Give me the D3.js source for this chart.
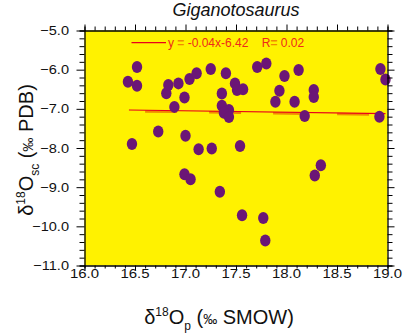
<!DOCTYPE html>
<html><head><meta charset="utf-8">
<script src="https://cdn.jsdelivr.net/npm/d3@7"></script>
<style>body{margin:0;background:#fff}svg{display:block}text{font-family:"Liberation Sans",Arial,sans-serif}</style>
</head><body>
<script>
const title = "Giganotosaurus";
const xTicks = [16.0, 16.5, 17.0, 17.5, 18.0, 18.5, 19.0];
const yTicks = [-5.0, -6.0, -7.0, -8.0, -9.0, -10.0, -11.0];
const ptX = [16.52,16.43,16.52,16.47,16.73,16.81,16.83,16.93,16.99,16.89,17.00,17.04,17.11,17.13,16.99,17.05,17.25,17.26,17.40,17.36,17.36,17.43,17.38,17.43,17.49,17.51,17.57,17.54,17.34,17.56,17.71,17.80,17.98,18.12,17.93,17.89,18.08,18.27,18.27,18.18,18.34,18.28,17.77,17.79,18.93,18.98,18.92];
const ptY = [-5.93,-6.31,-6.41,-7.90,-7.58,-6.60,-6.39,-6.35,-6.71,-6.95,-7.69,-6.24,-6.09,-8.03,-8.67,-8.80,-5.98,-8.01,-6.09,-6.61,-6.92,-7.03,-7.10,-7.21,-6.35,-6.52,-6.50,-7.95,-9.12,-9.72,-5.93,-5.84,-6.16,-6.01,-6.54,-6.82,-6.82,-6.52,-6.70,-7.18,-8.44,-8.70,-9.79,-10.36,-5.98,-6.25,-7.20];
const fitX = [16.44, 18.98];
const fitY = [-7.03, -7.12];
const legendParts = ["y ", "=", " -0.04x-6.42\u00a0\u00a0\u00a0\u00a0R", "=", " 0.02"];

const W = 415, H = 335;
const svg = d3.select("body").append("svg").attr("width", W).attr("height", H);
const x = d3.scaleLinear().domain([16, 19]).range([84.5, 387.5]);
const y = d3.scaleLinear().domain([-11, -5]).range([265.5, 30.5]);

svg.append("rect").attr("x", x(16)).attr("y", y(-5)).attr("width", x(19) - x(16)).attr("height", y(-11) - y(-5)).attr("fill", "#fff200");

const fy = v => fitY[0] + (v - fitX[0]) * (fitY[1] - fitY[0]) / (fitX[1] - fitX[0]);
svg.append("line").attr("x1", x(16.6)).attr("x2", x(18.83)).attr("y1", y(fy(16.6)) + 1.2).attr("y2", y(fy(18.83)) + 1.2)
  .attr("stroke", "#f08a00").attr("stroke-width", 2.5).attr("stroke-dasharray", "32,32");
svg.append("line").attr("x1", x(fitX[0])).attr("x2", x(fitX[1])).attr("y1", y(fitY[0])).attr("y2", y(fitY[1]))
  .attr("stroke", "#e8001c").attr("stroke-width", 1.2);

svg.append("g").selectAll("ellipse").data(ptX).join("ellipse")
  .attr("cx", (d) => x(d)).attr("cy", (d, i) => y(ptY[i])).attr("rx", 5.2).attr("ry", 6)
  .attr("fill", "#6b1676");

const fmt = d3.format(".1f");
const gB = svg.append("g").attr("transform", `translate(0,${y(-11)})`)
  .call(d3.axisBottom(x).tickValues(d3.range(16, 19.001, 0.1)).tickSize(3).tickFormat(""));
gB.call(g => g.selectAll(".tick line").filter(d => Math.abs(d * 2 - Math.round(d * 2)) < 1e-6).attr("y2", 5));
const gT = svg.append("g").attr("transform", `translate(0,${y(-5)})`)
  .call(d3.axisTop(x).tickValues(d3.range(16, 19.001, 0.1)).tickSize(4).tickFormat(""));
gT.call(g => g.selectAll(".tick line").filter(d => Math.abs(d * 2 - Math.round(d * 2)) < 1e-6).attr("y2", -6));
const gL = svg.append("g").attr("transform", `translate(${x(16)},0)`)
  .call(d3.axisLeft(y).tickValues(d3.range(-11, -4.999, 0.2)).tickSize(5).tickFormat(""));
gL.call(g => g.selectAll(".tick line").filter(d => Math.abs(d - Math.round(d)) < 1e-6).attr("x2", -8));
const gR = svg.append("g").attr("transform", `translate(${x(19)},0)`)
  .call(d3.axisRight(y).tickValues(d3.range(-11, -4.999, 0.2)).tickSize(5).tickFormat(""));
gR.call(g => g.selectAll(".tick line").filter(d => Math.abs(d - Math.round(d)) < 1e-6).attr("x2", 7));
svg.selectAll(".domain").attr("stroke", "#000").attr("stroke-width", 1.3);
svg.selectAll(".tick line").attr("stroke", "#000");

svg.append("g").selectAll("text").data(xTicks).join("text")
  .attr("transform", d => `translate(${x(d)},278) scale(1.15,1)`).attr("text-anchor", "middle")
  .attr("font-size", 13).attr("fill", "#111").text(d => fmt(d));
svg.append("g").selectAll("text").data(yTicks).join("text")
  .attr("transform", d => `translate(69,${y(d) + 4.5}) scale(1.12,1)`).attr("text-anchor", "end")
  .attr("font-size", 13).attr("fill", "#111").text(d => fmt(d));

svg.append("text").attr("x", 236).attr("y", 16).attr("text-anchor", "middle")
  .attr("font-size", 18).attr("font-style", "italic").attr("fill", "#111").text(title);

svg.append("line").attr("x1", 131.5).attr("x2", 166).attr("y1", 42.7).attr("y2", 42.7).attr("stroke", "#e8001c").attr("stroke-width", 1.2);
const lt = svg.append("text").attr("x", 168).attr("y", 47).attr("font-size", 12);
lt.selectAll("tspan").data(legendParts).join("tspan")
  .attr("fill", d => d === "=" ? "#f08a00" : "#ee2a1a").attr("font-weight", d => d === "=" ? "bold" : null).text(d => d);

const xt = svg.append("text").attr("x", 219).attr("y", 324).attr("text-anchor", "middle").attr("font-size", 20).attr("fill", "#111");
xt.append("tspan").text("δ");
xt.append("tspan").attr("font-size", 12).attr("dy", -8).text("18");
xt.append("tspan").attr("dy", 8).text("O");
xt.append("tspan").attr("font-size", 12).attr("dy", 6).text("p");
xt.append("tspan").attr("dy", -6).text("\u00a0(");
xt.append("tspan").attr("font-size", 14).text("‰");
xt.append("tspan").text(" SMOW)");

const yt = svg.append("text").attr("transform", "translate(33,150) rotate(-90)").attr("text-anchor", "middle").attr("font-size", 20).attr("fill", "#111");
yt.append("tspan").text("δ");
yt.append("tspan").attr("font-size", 12).attr("dy", -8).text("18");
yt.append("tspan").attr("dy", 8).text("O");
yt.append("tspan").attr("font-size", 12).attr("dy", 6).text("sc");
yt.append("tspan").attr("dy", -6).text(" (");
yt.append("tspan").attr("font-size", 14).text("‰");
yt.append("tspan").text(" PDB)");
</script>
</body></html>
